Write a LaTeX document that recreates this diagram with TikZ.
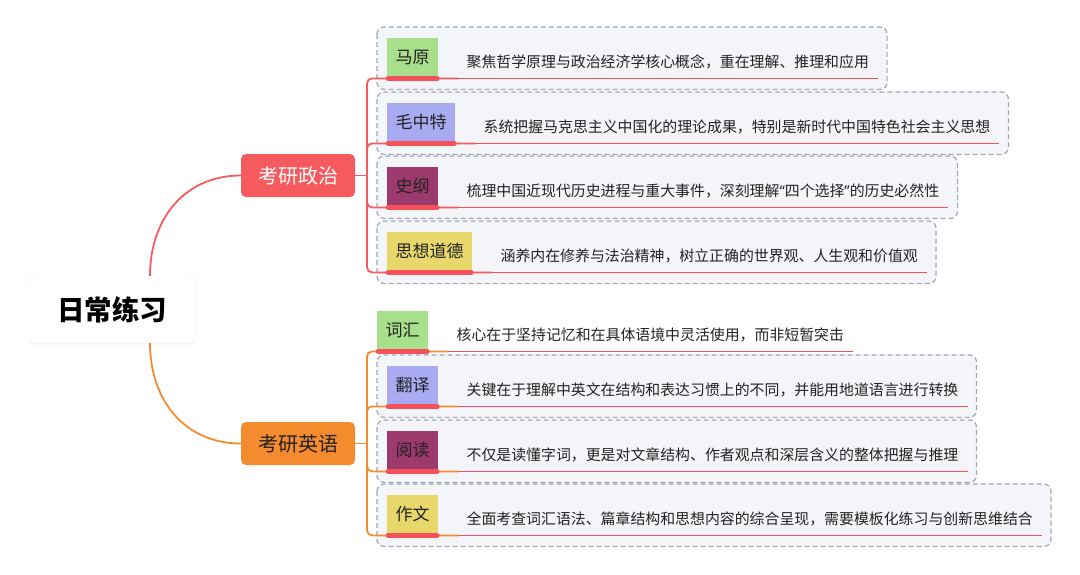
\documentclass[tikz,border=0pt]{standalone}
\usepackage{fontspec}
\setmainfont{Noto Sans CJK SC}
\newfontfamily\latinq{Noto Sans}
\usetikzlibrary{positioning,calc,backgrounds,shadows}
\definecolor{polred}{HTML}{F55A5E}
\definecolor{engorg}{HTML}{F58B2F}
\definecolor{linered}{HTML}{F4515A}
\definecolor{taggreen}{HTML}{A7DF8A}
\definecolor{tagblue}{HTML}{A9ABF2}
\definecolor{tagplum}{HTML}{9C3A6D}
\definecolor{tagyellow}{HTML}{E8D86C}
\definecolor{boxgray}{HTML}{F4F5F8}
\definecolor{dashgray}{HTML}{A0A6B2}
\definecolor{ink}{HTML}{222222}

\begin{document}
\begin{tikzpicture}[x=1pt,y=-1pt,
  topic/.style={rounded corners=5pt,minimum width=114pt,minimum height=43pt,
               font=\fontsize{20}{22}\selectfont},
  tag/.style={anchor=north west,minimum height=38pt,inner xsep=8.5pt,text=ink,
              font=\fontsize{17}{19}\selectfont},
  desc/.style={inner sep=0pt,text=ink,font=\fontsize{14.9}{16}\selectfont},
  branch/.style={line width=1.8pt,rounded corners=5pt},
  uline/.style={draw=linered,line width=4.5pt,line cap=round},
  tline/.style={draw=linered,line width=1.4pt},
  dbox/.style={draw=dashgray,fill=boxgray,line width=1.2pt,rounded corners=7pt,
               dash pattern=on 5pt off 3pt}]
\useasboundingbox (0,0) rectangle (1080,574);
\node[topic,minimum width=168pt,minimum height=67pt,fill=white,draw=black!5,
      drop shadow={shadow xshift=0pt,shadow yshift=-1.5pt,opacity=.08},
      font=\fontsize{27.5}{30}\selectfont\bfseries](root) at (112,309.5){日常练习};
\node[topic,fill=polred,text=white](pol) at (298,175.5){考研政治};
\node[topic,fill=engorg,text=ink](eng) at (298,443.5){考研英语};
\coordinate (pfork) at (367,175.5); \coordinate (efork) at (367,443.5);
\draw[branch,polred]([xshift=38pt]root.north) .. controls +(0,-57) and +(-56,0) .. (pol.west);
\draw[branch,engorg]([xshift=38pt]root.south) .. controls +(0,57) and +(-56,0) .. (eng.west);
\draw[branch,polred](pol.east)--(pfork); \draw[branch,engorg](eng.east)--(efork);

\foreach \n/\x/\y/\c/\k/\f/\t/\s in {
  pA/387/38/taggreen/polred/pfork/马原/聚焦哲学原理与政治经济学核心概念，重在理解、推理和应用,
  pB/387/103/tagblue/polred/pfork/毛中特/系统把握马克思主义中国化的理论成果，特别是新时代中国特色社会主义思想,
  pC/387/167/tagplum/polred/pfork/史纲/梳理中国近现代历史进程与重大事件，深刻理解{\latinq “}四个选择{\latinq ”}的历史必然性,
  pD/387/232/tagyellow/polred/pfork/思想道德/涵养内在修养与法治精神，树立正确的世界观、人生观和价值观,
  eA/377/311/taggreen/engorg/efork/词汇/核心在于坚持记忆和在具体语境中灵活使用，而非短暂突击,
  eB/387/366/tagblue/engorg/efork/翻译/关键在于理解中英文在结构和表达习惯上的不同，并能用地道语言进行转换,
  eC/387/431/tagplum/engorg/efork/阅读/不仅是读懂字词，更是对文章结构、作者观点和深层含义的整体把握与推理,
  eD/387/495/tagyellow/engorg/efork/作文/全面考查词汇语法、篇章结构和思想内容的综合呈现，需要模板化练习与创新思维结合}{
  \node[tag,fill=\c](\n) at (\x,\y){\t};
  \node[desc,anchor=west,right=28pt of \n.east,yshift=-4.5pt](d\n){\s};
  \coordinate (u\n) at ([shift={(20,2)}]\n.south east);
  \draw[branch,\k](\f) |- (u\n);
  \draw[tline](u\n)--($(d\n.east |- u\n)+(9,0)$);
  \draw[uline]([shift={(1,2)}]\n.south west)--([shift={(-1,2)}]\n.south east);
}
% dashed frames behind the leaves
\begin{scope}[on background layer]
\foreach \n in {pA,pB,pC,pD,eB,eC,eD}
  \draw[dbox]([shift={(-10,-11)}]\n.north west) rectangle ($(d\n.east |- \n.south)+(18,13)$);
\end{scope}
\end{tikzpicture}
\end{document}
